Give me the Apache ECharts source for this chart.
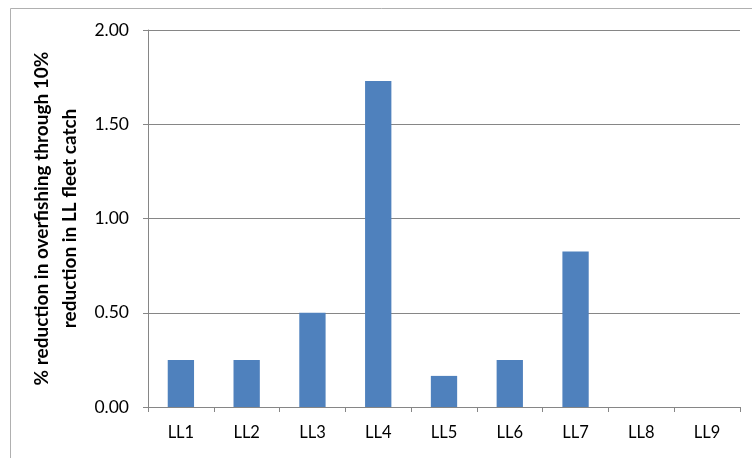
<!DOCTYPE html>
<html>
<head>
<meta charset="utf-8">
<script src="https://cdn.jsdelivr.net/npm/echarts@6/dist/echarts.min.js"></script>
<style>
html,body{margin:0;padding:0;background:#fff;}
#c{width:752px;height:458px;}
</style>
</head>
<body>
<div id="c"></div>
<script>
const categories = ['LL1','LL2','LL3','LL4','LL5','LL6','LL7','LL8','LL9'];
const values = [0.25, 0.25, 0.50, 1.73, 0.165, 0.25, 0.825, 0, 0];
const yTicks = [0, 0.5, 1, 1.5, 2];
const yTitle = '% reduction in overfishing through 10%\nreduction in LL fleet catch';

const chart = echarts.init(document.getElementById('c'), null, {renderer:'canvas'});
const fontFamily = 'Lato, "Open Sans", sans-serif';
chart.setOption({
  animation:false,
  backgroundColor:'#fff',
  graphic:[{
    type:'rect', left:8, top:6,
    shape:{x:0,y:0,width:760,height:470},
    style:{fill:'none', stroke:'#b0b0b0', lineWidth:1}
  }],
  grid:{left:148, right:12, top:30, bottom:51, containLabel:false},
  xAxis:{
    type:'category',
    data:categories,
    axisLine:{show:true, lineStyle:{color:'#868686', width:1}},
    axisTick:{show:true, length:5, lineStyle:{color:'#868686'}},
    axisLabel:{color:'#000', fontFamily, fontSize:16.5, margin:17},
    splitLine:{show:false}
  },
  yAxis:{
    type:'value',
    min:yTicks[0], max:yTicks[yTicks.length-1], interval:0.5,
    name:yTitle,
    nameLocation:'middle',
    nameGap:62,
    nameTextStyle:{color:'#000', fontFamily, fontSize:19, fontWeight:'bold', lineHeight:28, align:'center'},
    axisLine:{show:true, lineStyle:{color:'#868686', width:1}},
    axisTick:{show:true, length:5, lineStyle:{color:'#868686'}},
    axisLabel:{color:'#000', fontFamily, fontSize:17.5, margin:19, formatter:v=>v.toFixed(2)},
    splitLine:{show:true, lineStyle:{color:'#868686', width:1}}
  },
  series:[{
    type:'bar',
    data:values,
    barCategoryGap:'60%',
    itemStyle:{color:'#4F81BD'}
  }]
});
</script>
</body>
</html>
